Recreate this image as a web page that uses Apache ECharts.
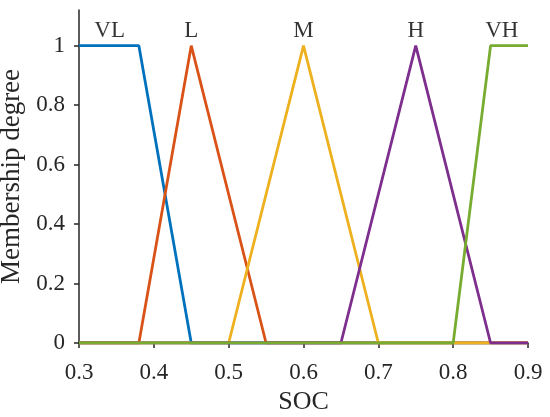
<!DOCTYPE html>
<html>
<head>
<meta charset="utf-8">
<script src="https://cdn.jsdelivr.net/npm/echarts@6/dist/echarts.min.js"></script>
<style>
  html, body { margin: 0; padding: 0; background: #fff; }
  #main { width: 550px; height: 417px; }
</style>
</head>
<body>
<div id="main"></div>
<script>
// membership functions of SOC, breakpoints
var names = ['VL', 'L', 'M', 'H', 'VH'];
var colors = ['#0072BD', '#D95319', '#EDB120', '#7E2F8E', '#77AC30'];
var vlData = [[0.3, 1], [0.38, 1], [0.45, 0], [0.9, 0]];
var lData  = [[0.3, 0], [0.38, 0], [0.45, 1], [0.55, 0], [0.9, 0]];
var mData  = [[0.3, 0], [0.5, 0], [0.6, 1], [0.7, 0], [0.9, 0]];
var hData  = [[0.3, 0], [0.65, 0], [0.75, 1], [0.85, 0], [0.9, 0]];
var vhData = [[0.3, 0], [0.8, 0], [0.85, 1], [0.9, 1]];
var seriesData = [vlData, lData, mData, hData, vhData];

// where the set names sit (data coords)
var labelX = [0.341, 0.45, 0.6, 0.75, 0.865];
var labelY = 1.05;

var xTicks = [0.3, 0.4, 0.5, 0.6, 0.7, 0.8, 0.9];
var yTicks = [0, 0.2, 0.4, 0.6, 0.8, 1];

var font = '"Liberation Serif", "Times New Roman", serif';
var axisColor = '#262626';

var myChart = echarts.init(document.getElementById('main'));

var series = [];
for (var i = 0; i < names.length; i++) {
    series.push({
        name: names[i],
        type: 'line',
        data: seriesData[i],
        showSymbol: false,
        symbol: 'none',
        lineStyle: { color: colors[i], width: 2.8 },
        itemStyle: { color: colors[i] },
        z: 2 + i,
        animation: false
    });
}
series.push({
    type: 'scatter',
    symbolSize: 0,
    data: names.map(function (n, i) { return [labelX[i], labelY, n]; }),
    label: {
        show: true,
        position: 'inside',
        formatter: function (p) { return p.data[2]; },
        color: '#000',
        fontFamily: font,
        fontSize: 23
    },
    silent: true,
    animation: false
});

var option = {
    backgroundColor: '#fff',
    grid: { left: 79, right: 22, top: 10, bottom: 74, outerBoundsMode: 'none', containLabel: false },
    xAxis: {
        type: 'value',
        min: 0.3,
        max: 0.9,
        interval: 0.1,
        name: 'SOC',
        nameLocation: 'middle',
        nameGap: 46,
        nameTextStyle: { fontFamily: font, fontSize: 26, color: '#262626' },
        axisLine: { lineStyle: { color: axisColor, width: 1.5 } },
        axisTick: { show: true, inside: false, length: 5, lineStyle: { color: axisColor, width: 1.5 }, customValues: xTicks },
        axisLabel: {
            customValues: xTicks,
            formatter: function (v) { return v.toFixed(1); },
            fontFamily: font, fontSize: 23, color: '#262626', margin: 18
        },
        splitLine: { show: false }
    },
    yAxis: {
        type: 'value',
        min: 0,
        max: 1.12,
        name: 'Membership degree',
        nameLocation: 'middle',
        nameGap: 47,
        nameTextStyle: { fontFamily: font, fontSize: 27, color: '#262626' },
        axisLine: { show: true, lineStyle: { color: axisColor, width: 1.5 } },
        axisTick: { show: true, inside: false, length: 5, lineStyle: { color: axisColor, width: 1.5 }, customValues: yTicks },
        axisLabel: {
            customValues: yTicks,
            formatter: function (v) { return v === 0 || v === 1 ? String(v) : v.toFixed(1); },
            fontFamily: font, fontSize: 23, color: '#262626', margin: 14
        },
        splitLine: { show: false }
    },
    series: series
};

myChart.setOption(option);
</script>
</body>
</html>
